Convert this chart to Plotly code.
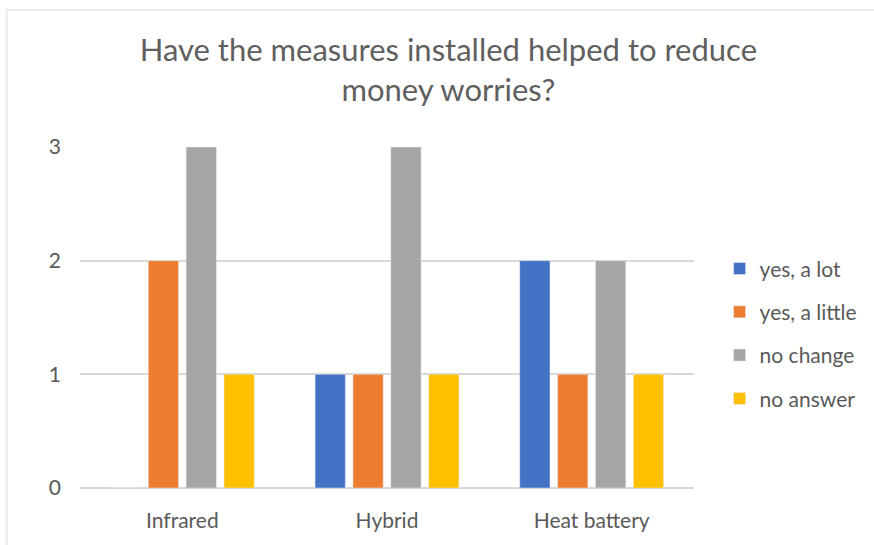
import plotly.graph_objects as go

categories = ["Infrared", "Hybrid", "Heat battery"]
series_names = ["yes, a lot", "yes, a little", "no change", "no answer"]
yes_a_lot = [0, 1, 2]
yes_a_little = [2, 1, 1]
no_change = [3, 3, 2]
no_answer = [1, 1, 1]
colors = ["#4472C4", "#ED7D31", "#A5A5A5", "#FFC000"]
title_text = "Have the measures installed helped to reduce<br>money worries?"

fig = go.Figure()
for i, (name, vals) in enumerate(zip(series_names, [yes_a_lot, yes_a_little, no_change, no_answer])):
    fig.add_trace(go.Bar(x=categories, y=vals, name=name, marker_color=colors[i],
                         legendgroup=f"g{i}"))

font_family = "Lato, Open Sans, sans-serif"
fig.update_layout(
    width=874, height=545,
    margin=dict(l=80, r=179, t=147, b=57),
    paper_bgcolor="white", plot_bgcolor="white",
    font=dict(family=font_family, color="#595959", size=21),
    title=dict(text=title_text, x=0.513, xanchor="center", y=0.888, yanchor="top",
               font=dict(size=31, color="#5f5f5f", family=font_family)),
    barmode="group", bargap=0.26, bargroupgap=0.2,
    legend=dict(x=1.04, xanchor="left", y=0.452, yanchor="middle",
                traceorder="grouped", tracegroupgap=13,
                font=dict(size=21, color="#595959"), itemwidth=30),
    xaxis=dict(showgrid=False, showline=True, linecolor="#d9d9d9", tickfont=dict(size=21),
               ticks="", ticklabelstandoff=14),
    yaxis=dict(range=[0, 3], dtick=1, showgrid=True, gridcolor="#d9d9d9", gridwidth=1.5,
               zeroline=True, zerolinecolor="#d9d9d9", tickfont=dict(size=21),
               ticklabelstandoff=18),
    shapes=[dict(type="rect", xref="paper", yref="paper",
                 x0=-0.1193, x1=1.307, y0=-0.182, y1=1.4018,
                 line=dict(color="#e6e6e6", width=1.5), fillcolor="rgba(0,0,0,0)", layer="below")],
)
fig.write_html("out.html", config={"displayModeBar": False},
               post_script="document.body.style.margin='0';")
